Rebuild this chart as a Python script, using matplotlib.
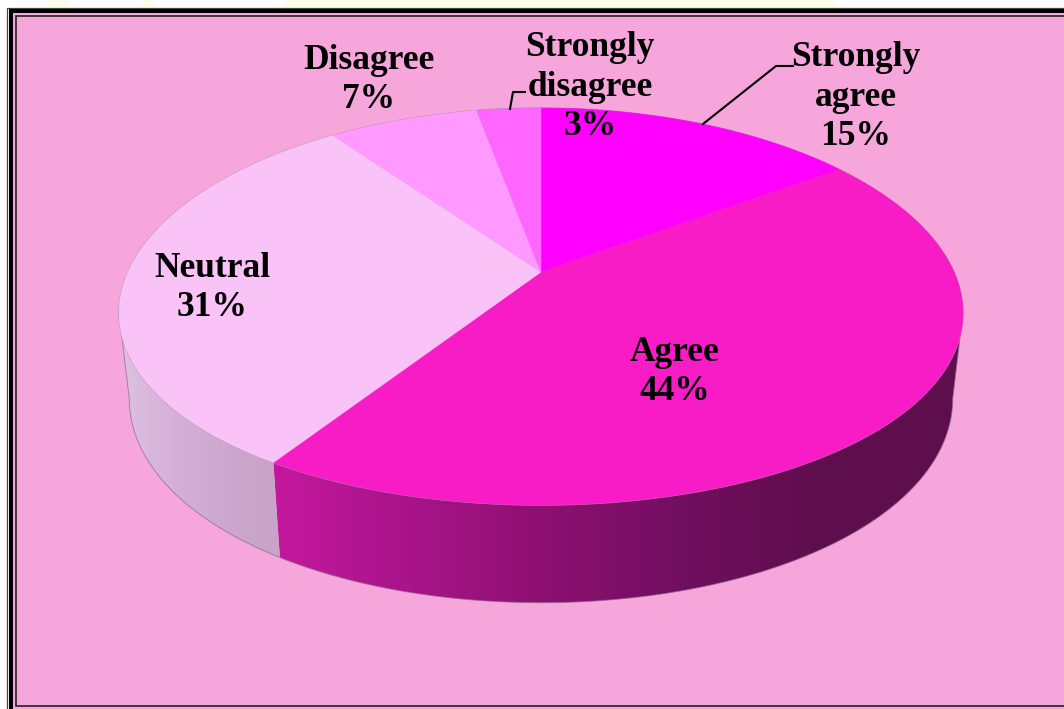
import matplotlib
matplotlib.use("Agg")
import matplotlib.pyplot as plt
import numpy as np
from matplotlib.patches import Polygon, Rectangle
from matplotlib.colors import LinearSegmentedColormap

labels = ["Strongly\nagree\n15%", "Agree\n44%", "Neutral\n31%", "Disagree\n7%", "Strongly\ndisagree\n3%"]
values = [15, 44, 31, 7, 3]
colors = ["#FF00FF", "#F81CC6", "#F9C3F7", "#FF99FF", "#FF66FF"]
label_x = [856, 675, 212, 369, 590]
label_y = [97, 372, 288, 80, 87]

bg = "#F6A6DA"
cx = 541
kx = 0.205
ky = 0.174


# top and lower rim of the pie, t clockwise from 12 o'clock
def rim(t, x_scale, y0, y_scale):
    u = np.sin(t)
    v = np.cos(t)
    return cx + x_scale * u / (1 + kx * v), y0 - y_scale * v / (1 + ky * v)


def top_rim(t):
    return rim(t, 413, 272, 192.5)


def low_rim(t):
    return rim(t, 403, 355, 204.6)


fig = plt.figure(figsize=(10.64, 7.09), dpi=100)
ax = fig.add_axes([0, 0, 1, 1])
ax.set_xlim(0, 1064)
ax.set_ylim(709, 0)
ax.axis("off")

# page behind the frame
ax.add_patch(Rectangle((0, 0), 1064, 709, fc="white", ec="none", zorder=0))
for x0, x1 in [(48, 68), (143, 153), (285, 835)]:
    ax.add_patch(Rectangle((x0, 0), x1 - x0, 7, fc="#FFFBEB", ec="none", zorder=0.1))

# frame
ax.add_patch(Rectangle((6.5, 7.5), 1100, 760, fc="white", ec="#444444", lw=0.9, zorder=1))
ax.add_patch(Rectangle((9, 9), 1100, 760, fc="black", ec="none", zorder=1.1))
ax.add_patch(Rectangle((13, 13), 1100, 760, fc=bg, ec="none", zorder=1.2))
ax.add_patch(Rectangle((15.5, 15.5), 1100, 690.5, fc=bg, ec="#222222", lw=1.2, zorder=1.3))

# angles of the slice edges
edges = 2 * np.pi * np.concatenate([[0], np.cumsum(values)]) / np.sum(values)

# only this part of the wall faces the viewer
vis0 = np.arccos(-kx)
vis1 = 2 * np.pi - vis0

# side wall, shaded left to right
side_stops = {
    1: ["#C4189E", "#A81488", "#8C1070", "#700E5E", "#5E0E4C", "#5E0E4C"],
    2: ["#DEC2E2", "#D6B0D8", "#CCA6CC", "#C8A4C8"],
}
side_range = {1: (273, 965), 2: (118, 285)}
for i in side_stops:
    t = np.linspace(max(edges[i], vis0), min(edges[i + 1], vis1), 200)
    xt, yt = top_rim(t)
    xl, yl = low_rim(t)
    pts = np.column_stack([np.concatenate([xt, xl[::-1]]), np.concatenate([yt, yl[::-1]])])
    cmap = LinearSegmentedColormap.from_list("side", side_stops[i])
    x0, x1 = side_range[i]
    im = ax.imshow(np.linspace(0, 1, 256).reshape(1, -1), cmap=cmap, aspect="auto",
                   extent=[x0, x1, 620, 100], zorder=2)
    im.set_clip_path(Polygon(pts, transform=ax.transData))
ax.set_xlim(0, 1064)
ax.set_ylim(709, 0)

# faint outline of the wall
t = np.linspace(vis0, vis1, 300)
xl, yl = low_rim(t)
xt, yt = top_rim(np.array([vis0, vis1]))
ax.plot(np.concatenate([[xt[0]], xl, [xt[1]]]), np.concatenate([[yt[0]], yl, [yt[1]]]),
        color="#8A6A90", lw=0.7, alpha=0.7, zorder=2.1)

# rim outline, then top face
t = np.linspace(0, 2 * np.pi, 400)
xt, yt = top_rim(t)
ax.add_patch(Polygon(np.column_stack([xt, yt]), fc="none", ec="#A890A8", lw=0.9, zorder=2.5))
for i in range(len(values)):
    t = np.linspace(edges[i], edges[i + 1], 120)
    xt, yt = top_rim(t)
    ax_pts = np.column_stack([np.append(xt, cx), np.append(yt, 272)])
    ax.add_patch(Polygon(ax_pts, fc=colors[i], ec=colors[i], lw=0.4, zorder=3))

# leader lines
ax.plot([703, 776, 793], [124, 66, 66], color="black", lw=1.5, zorder=4)
ax.plot([510, 513, 525], [109, 92, 92], color="black", lw=1.5, zorder=4)

for i in range(len(labels)):
    ax.text(label_x[i], label_y[i], labels[i], ha="center", va="center", family="Liberation Serif",
            fontweight="bold", fontsize=25.5, linespacing=1.26, color="black", zorder=5)

fig.savefig("out.png", dpi=100)
